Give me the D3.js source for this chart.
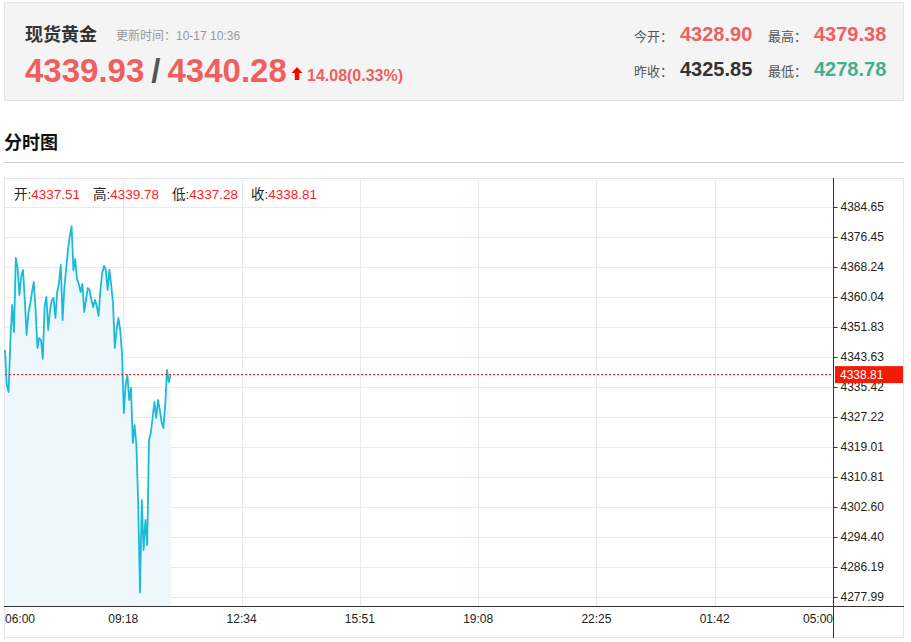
<!DOCTYPE html>
<html>
<head>
<meta charset="utf-8">
<script src="https://cdn.jsdelivr.net/npm/d3@7"></script>
<style>
  body { margin: 0; background: #fff; }
  svg { display: block; font-family: "Liberation Sans", Arial, "Noto Sans CJK SC", sans-serif; }
</style>
</head>
<body>
<svg id="graph"></svg>
<script>
// header quote
var quoteName = "现货黄金";
var updateTime = "更新时间：10-17 10:36";
var bidAsk = ["4339.93", "4340.28"];
var change = "14.08(0.33%)";
var quoteStats = [
    {label: "今开：", value: "4328.90", kind: "up"},
    {label: "最高：", value: "4379.38", kind: "up"},
    {label: "昨收：", value: "4325.85", kind: "flat"},
    {label: "最低：", value: "4278.78", kind: "down"}
];
var ohlcLabels = ["开:", "高:", "低:", "收:"];
var ohlcValues = ["4337.51", "4339.78", "4337.28", "4338.81"];

// minute chart: one price every 3 minutes from 06:00
var stepMinutes = 3;
var sessionMinutes = 1380;
var prices = [
    4345.54, 4335.97, 4334.06, 4348.28, 4357.85, 4350.46, 4370.70, 4367.97, 4360.58, 4365.78,
    4367.42, 4359.22, 4349.64, 4355.66, 4358.12, 4361.40, 4364.14, 4356.48, 4346.09, 4348.82,
    4348.28, 4343.08, 4357.58, 4360.04, 4351.01, 4356.48, 4359.22, 4359.76, 4354.29, 4361.40,
    4363.87, 4368.79, 4353.75, 4362.77, 4367.97, 4372.89, 4376.72, 4379.38, 4367.42, 4370.43,
    4364.96, 4363.59, 4361.40, 4363.59, 4355.93, 4359.22, 4362.50, 4361.95, 4359.22, 4357.30,
    4359.22, 4357.58, 4354.84, 4361.95, 4366.60, 4368.52, 4367.42, 4361.95, 4367.42, 4363.32,
    4358.40, 4346.09, 4351.01, 4354.29, 4351.01, 4344.72, 4328.31, 4335.97, 4338.70, 4331.87,
    4335.15, 4320.11, 4325.03, 4319.56, 4303.15, 4279.20, 4304.52, 4290.84, 4299.05, 4292.21,
    4320.93, 4322.84, 4326.94, 4331.32, 4326.94, 4331.87, 4329.13, 4325.85, 4324.21, 4330.50,
    4340.07, 4336.79, 4338.81
];
var yTickLabels = ["4277.99", "4286.19", "4294.40", "4302.60", "4310.81", "4319.01", "4327.22",
    "4335.42", "4343.63", "4351.83", "4360.04", "4368.24", "4376.45", "4384.65"];
var xTickLabels = ["06:00", "09:18", "12:34", "15:51", "19:08", "22:25", "01:42", "05:00"];

var upColor = "#f05f5f", downColor = "#3fb08c", flatColor = "#333";

var width = 911, height = 642;
var svg = d3.select("svg")
    .attr("width", width)
    .attr("height", height);

// ---- header box
svg.append("rect")
    .attr("x", 4.5).attr("y", 2.5)
    .attr("width", 899).attr("height", 98)
    .attr("fill", "#f4f4f4")
    .attr("stroke", "#e4e4e4");

svg.append("text")
    .attr("x", 25).attr("y", 41)
    .attr("font-size", 18).attr("font-weight", "bold")
    .attr("fill", "#333")
    .text(quoteName);

svg.append("text")
    .attr("x", 116).attr("y", 40)
    .attr("font-size", 12)
    .attr("fill", "#999")
    .text(updateTime);

var big = svg.append("text")
    .attr("x", 25).attr("y", 82)
    .attr("font-size", 33).attr("font-weight", "bold");
big.append("tspan").attr("fill", upColor).text(bidAsk[0]);
big.append("tspan").attr("fill", "#555").attr("dx", 7).text("/");
big.append("tspan").attr("fill", upColor).attr("dx", 7).text(bidAsk[1]);

// up arrow
svg.append("path")
    .attr("d", "M297,67 L302.5,73 L299.2,73 L299.2,80 L294.8,80 L294.8,73 L291.5,73 Z")
    .attr("fill", "#f00");

svg.append("text")
    .attr("x", 307).attr("y", 81)
    .attr("font-size", 16).attr("font-weight", "bold")
    .attr("fill", upColor)
    .text(change);

var statX = [634, 768], statY = [41, 76];
quoteStats.forEach(function(s, i) {
    var t = svg.append("text")
        .attr("x", statX[i % 2]).attr("y", statY[Math.floor(i / 2)]);
    t.append("tspan").attr("font-size", 13).attr("fill", "#555").text(s.label);
    t.append("tspan")
        .attr("x", statX[i % 2] + 46)
        .attr("font-size", 20).attr("font-weight", "bold")
        .attr("fill", s.kind == "up" ? upColor : (s.kind == "down" ? downColor : flatColor))
        .text(s.value);
});

// ---- section title
svg.append("text")
    .attr("x", 4).attr("y", 149)
    .attr("font-size", 18).attr("font-weight", "bold")
    .attr("fill", "#111")
    .text("分时图");

svg.append("line")
    .attr("x1", 4).attr("x2", 904)
    .attr("y1", 162.5).attr("y2", 162.5)
    .attr("stroke", "#cfcfcf");

// ---- chart
var plot = {left: 5, right: 833, top: 178, bottom: 606};

svg.append("rect")
    .attr("x", 4.5).attr("y", 178.5)
    .attr("width", 899).attr("height", 459)
    .attr("fill", "none")
    .attr("stroke", "#e6e6e6");

var x = d3.scaleLinear()
    .domain([0, sessionMinutes])
    .range([plot.left, plot.right]);
var yVals = yTickLabels.map(Number);
var y = d3.scaleLinear()
    .domain([yVals[0], yVals[yVals.length - 1]])
    .range([597, 207]);

var xTickMinutes = xTickLabels.map(function(d, i) { return i * sessionMinutes / (xTickLabels.length - 1); });

// grid
svg.append("g").selectAll("line")
    .data(yVals)
    .enter().append("line")
    .attr("x1", plot.left).attr("x2", plot.right)
    .attr("y1", function(d) { return Math.round(y(d)) + 0.5; })
    .attr("y2", function(d) { return Math.round(y(d)) + 0.5; })
    .attr("stroke", "#e3ecf1");

svg.append("g").selectAll("line")
    .data(xTickMinutes.slice(1, -1))
    .enter().append("line")
    .attr("x1", function(d) { return Math.round(x(d)) + 0.5; })
    .attr("x2", function(d) { return Math.round(x(d)) + 0.5; })
    .attr("y1", plot.top).attr("y2", plot.bottom)
    .attr("stroke", "#e3ecf1");

// price area + line
var area = d3.area()
    .x(function(d, i) { return x(i * stepMinutes); })
    .y0(plot.bottom)
    .y1(function(d) { return y(d); });
var line = d3.line()
    .x(function(d, i) { return x(i * stepMinutes); })
    .y(function(d) { return y(d); });

svg.append("path")
    .datum(prices)
    .attr("d", area)
    .attr("fill", "#eef8fc");

svg.append("path")
    .datum(prices)
    .attr("d", line)
    .attr("fill", "none")
    .attr("stroke", "#1bbbd8")
    .attr("stroke-width", 1.8)
    .attr("stroke-linejoin", "round");

// last price marker
var last = prices[prices.length - 1];
svg.append("line")
    .attr("x1", plot.left).attr("x2", plot.right)
    .attr("y1", y(last)).attr("y2", y(last))
    .attr("stroke", "#f00")
    .attr("stroke-dasharray", "2,2");

// axes
svg.append("line")
    .attr("x1", 4).attr("x2", 904)
    .attr("y1", plot.bottom + 0.5).attr("y2", plot.bottom + 0.5)
    .attr("stroke", "#333");
svg.append("line")
    .attr("x1", plot.right + 0.5).attr("x2", plot.right + 0.5)
    .attr("y1", plot.top).attr("y2", 638)
    .attr("stroke", "#333");

var yAxis = svg.append("g")
    .attr("transform", "translate(" + (plot.right + 0.5) + ",0)")
    .call(d3.axisRight(y)
        .tickValues(yVals)
        .tickSize(4)
        .tickPadding(3)
        .tickFormat(function(d) { return d.toFixed(2); }));
yAxis.select(".domain").remove();
yAxis.selectAll("line").attr("stroke", "#333");
yAxis.selectAll("text")
    .attr("font-family", "Liberation Sans, Arial, sans-serif")
    .attr("font-size", 12)
    .attr("fill", "#222");

svg.append("g").selectAll("text")
    .data(xTickMinutes)
    .enter().append("text")
    .attr("x", function(d) { return x(d); })
    .attr("y", 623)
    .attr("text-anchor", function(d, i) { return i == 0 ? "start" : (i == xTickLabels.length - 1 ? "end" : "middle"); })
    .attr("font-size", 12)
    .attr("fill", "#222")
    .text(function(d, i) { return xTickLabels[i]; });

// last price label
svg.append("rect")
    .attr("x", 835).attr("y", y(last) - 8.5)
    .attr("width", 68).attr("height", 17)
    .attr("fill", "#f41b06");
svg.append("text")
    .attr("x", 840).attr("y", y(last) + 4.5)
    .attr("font-size", 12)
    .attr("fill", "#fff")
    .text(last.toFixed(2));

// OHLC line
var ohlcX = [14, 93, 172, 251];
ohlcLabels.forEach(function(lab, i) {
    var t = svg.append("text")
        .attr("x", ohlcX[i]).attr("y", 199)
        .attr("font-size", 13.5);
    t.append("tspan").attr("fill", "#222").text(lab);
    t.append("tspan").attr("fill", "#f22").text(ohlcValues[i]);
});
</script>
</body>
</html>
